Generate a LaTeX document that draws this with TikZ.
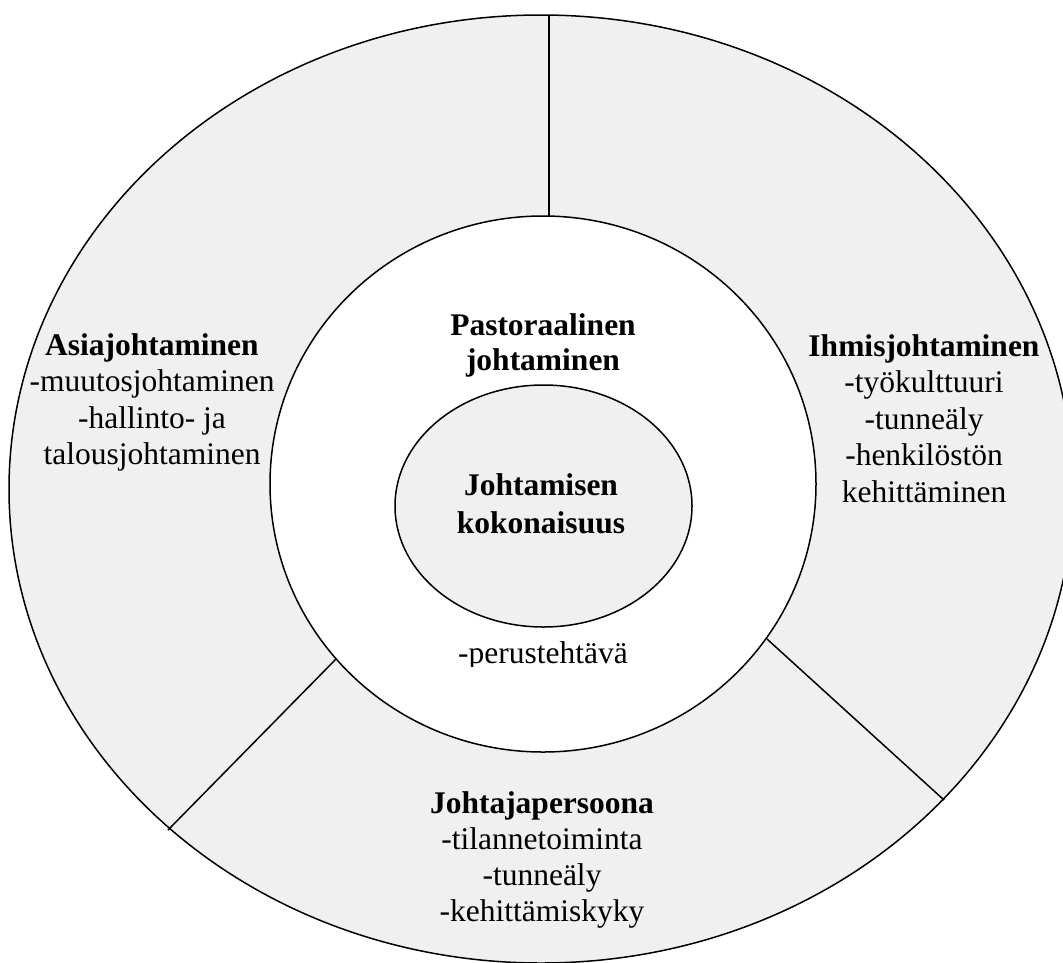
\documentclass[tikz,border=0pt]{standalone}
\usepackage{fontspec}
\setmainfont{Liberation Serif}
\definecolor{ringgray}{HTML}{F0F0F0}
\newcommand{\stacklines}[1]{\begin{tabular}[t]{@{}c@{}}#1\end{tabular}}
\tikzset{
  ringshape/.style={fill=ringgray, draw=black, line width=1.5pt},
  holeshape/.style={fill=white, draw=black, line width=1.5pt},
  divider/.style={draw=black, line width=1.5pt},
  lbl/.style={inner sep=0pt, anchor=base, font=\fontsize{31.5}{#1}\selectfont},
  lbl/.default=36.5,
}
\begin{document}
\begin{tikzpicture}[x=1pt,y=-1pt]
\useasboundingbox (0,0) rectangle (1063,962);
\clip (0,0) rectangle (1063,962);
% outer ring
\path[ringshape] (541,489) ellipse [x radius=532pt, y radius=474pt];
% inner white circle
\path[holeshape] (543,484) ellipse [x radius=273pt, y radius=268pt];
% divider end points
\coordinate (topout) at (549,15);
\coordinate (topin) at (549,216);
\coordinate (llout) at (168,830);
\coordinate (llin) at (336,659);
\coordinate (lrout) at (944,800);
\coordinate (lrin) at (767,639);
\draw[divider] (topout) -- (topin);
\draw[divider] (llin) -- (llout);
\draw[divider] (lrin) -- (lrout);
% central ellipse
\path[ringshape] (543.5,506) ellipse [x radius=148.5pt, y radius=121pt];
% labels
\node[lbl] (asia) at (152,355) {\stacklines{\textbf{Asiajohtaminen}\\-muutosjohtaminen\\-hallinto- ja\\talousjohtaminen}};
\node[lbl] (ihmis) at (924,356) {\stacklines{\textbf{Ihmisjohtaminen}\\-työkulttuuri\\-tunneäly\\-henkilöstön\\kehittäminen}};
\node[lbl=35] (pasto) at (543,335) {\stacklines{\textbf{Pastoraalinen}\\\textbf{johtaminen}}};
\node[lbl=38] (kokon) at (541,495) {\stacklines{\textbf{Johtamisen}\\\textbf{kokonaisuus}}};
\begin{scope}
\clip (380,600) rectangle (700,666);
\node[lbl] (perus) at (543,663) {-perustehtävä};
\end{scope}
\node[lbl=36] (persoona) at (542,813) {\stacklines{\textbf{Johtajapersoona}\\-tilannetoiminta\\-tunneäly\\-kehittämiskyky}};
\end{tikzpicture}
\end{document}
